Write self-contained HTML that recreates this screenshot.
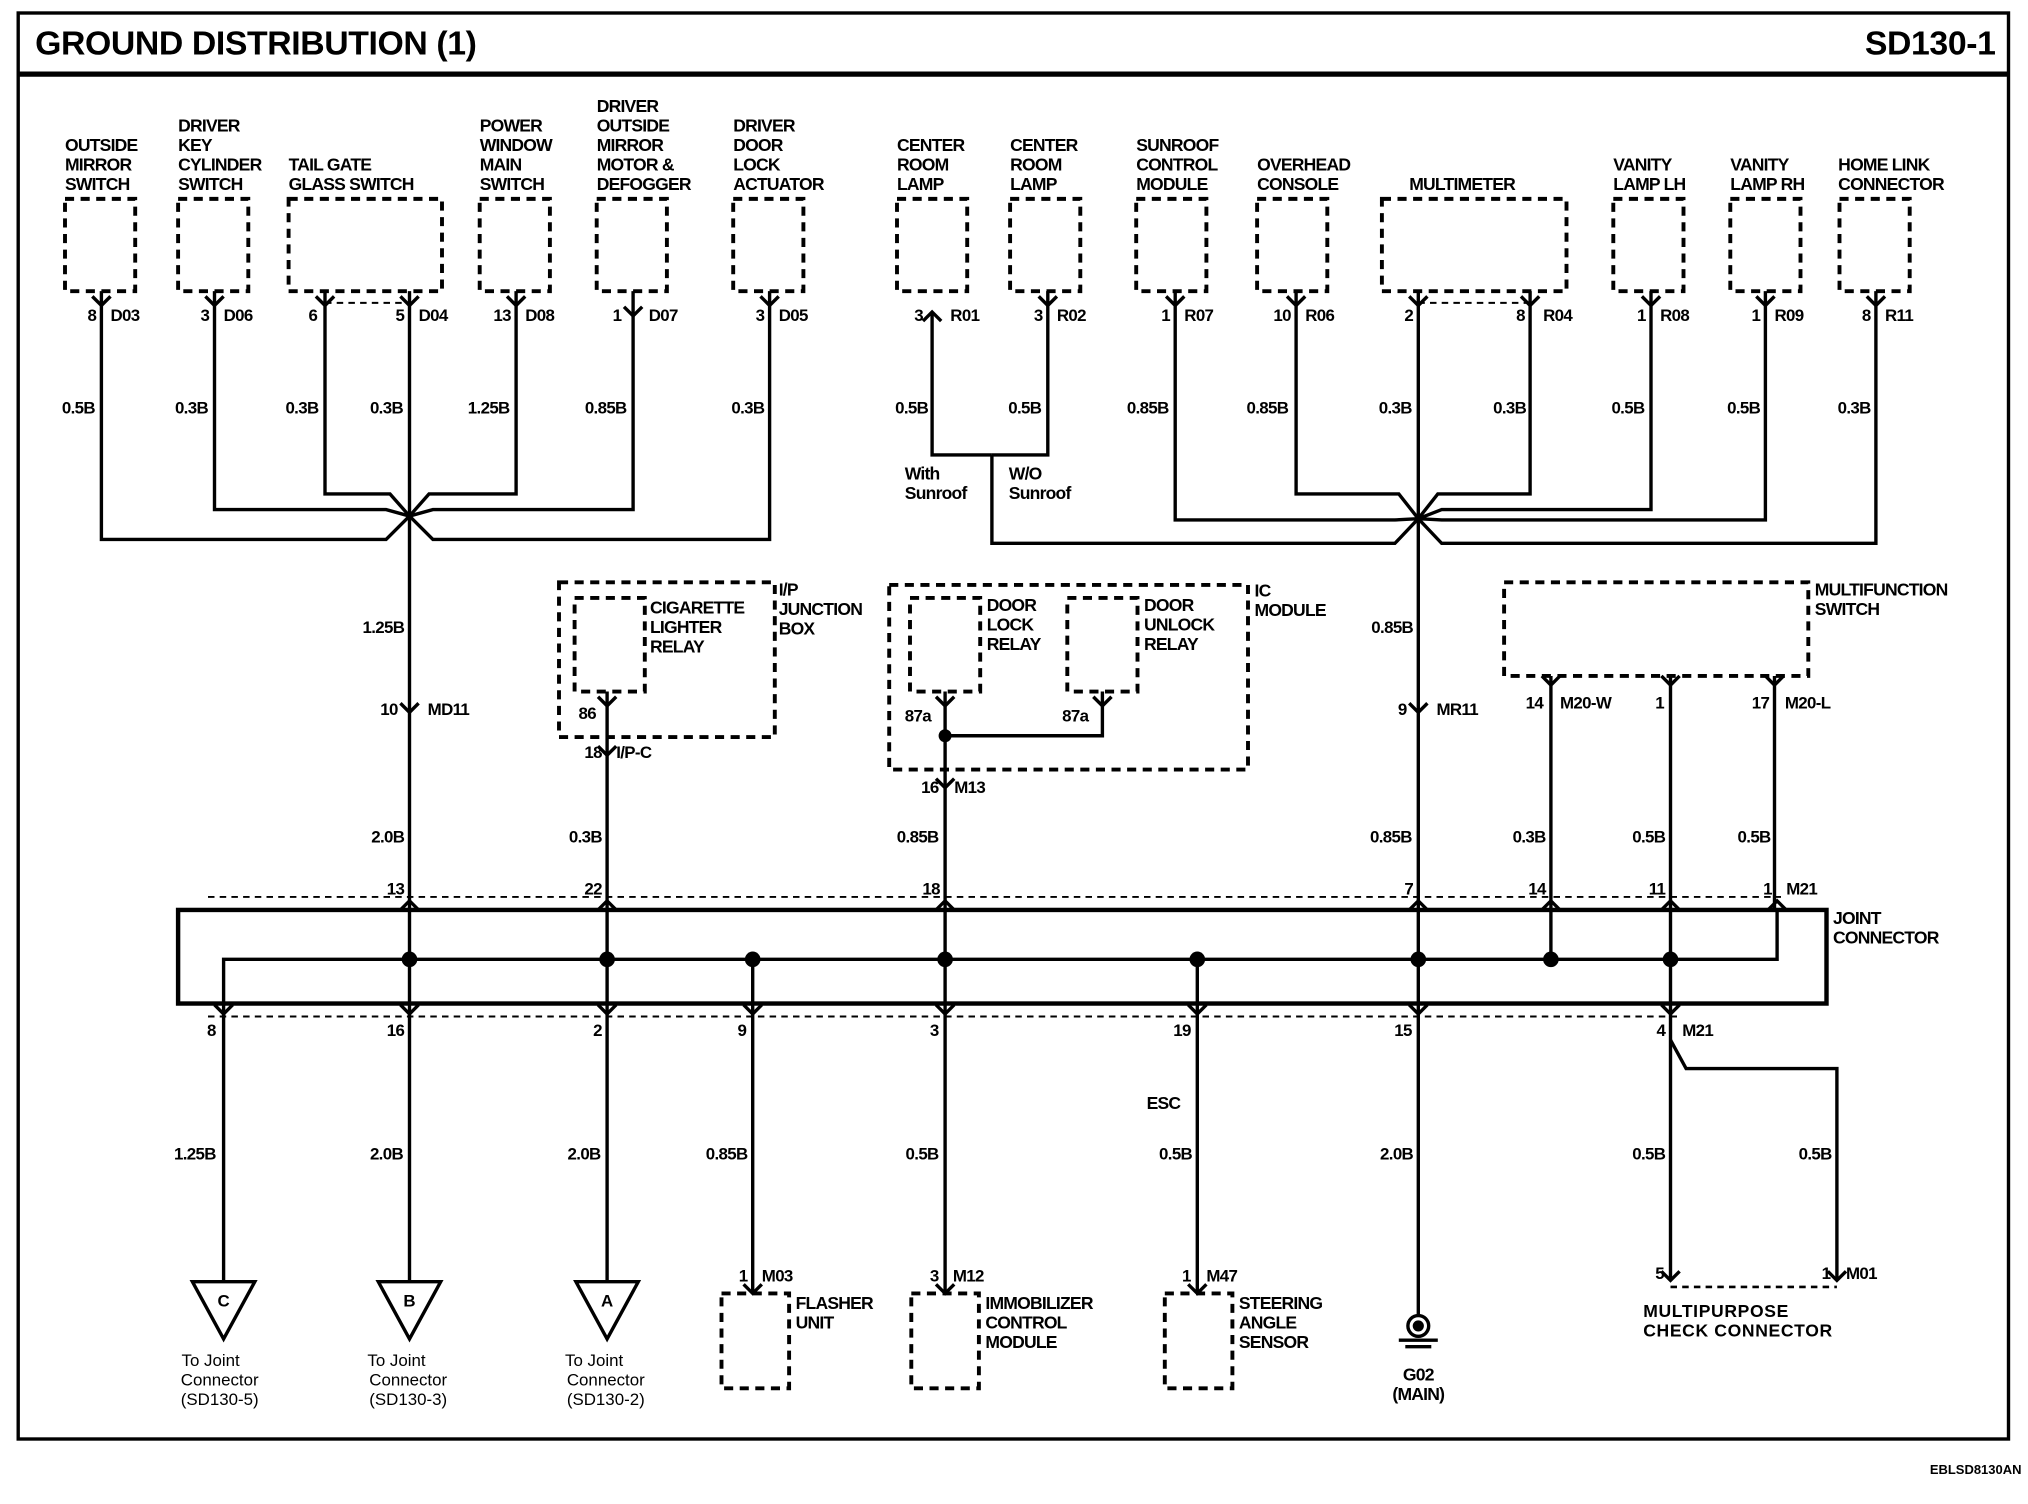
<!DOCTYPE html>
<html><head><meta charset="utf-8"><style>
html,body{margin:0;padding:0;background:#fff}
svg{display:block}
text{font-family:"Liberation Sans",sans-serif;font-weight:bold;fill:#000}
.l{font-size:13.5px;letter-spacing:-0.6px}
.w{font-size:13px;letter-spacing:-0.5px}
.p{font-size:13px;letter-spacing:-0.5px}
.d{fill:none;stroke:#000;stroke-width:3;stroke-dasharray:7 5}
.s{fill:none;stroke:#000;stroke-width:2.6}
.t{fill:none;stroke:#000;stroke-width:3.4}
.dl{fill:none;stroke:#000;stroke-width:1.5;stroke-dasharray:5 4}
</style></head><body>
<svg width="2028" height="1504" viewBox="0 0 1560 1157" preserveAspectRatio="none" xmlns="http://www.w3.org/2000/svg">
<rect x="0" y="0" width="1560" height="1157" fill="#fff"/>
<rect x="14" y="10" width="1531" height="1097" class="s"/>
<line x1="14" y1="57" x2="1545" y2="57" stroke="#000" stroke-width="4"/>
<text x="27" y="42" style="font-size:26px;letter-spacing:-0.3px">GROUND DISTRIBUTION (1)</text>
<text x="1535" y="42" text-anchor="end" style="font-size:26px;letter-spacing:-0.3px">SD130-1</text>
<text x="1555" y="1134" text-anchor="end" style="font-size:10px">EBLSD8130AN</text>

<g class="l">
<text x="50" y="116">OUTSIDE</text><text x="50" y="131">MIRROR</text><text x="50" y="146">SWITCH</text>
<text x="137" y="101">DRIVER</text><text x="137" y="116">KEY</text><text x="137" y="131">CYLINDER</text><text x="137" y="146">SWITCH</text>
<text x="222" y="131">TAIL GATE</text><text x="222" y="146">GLASS SWITCH</text>
<text x="369" y="101">POWER</text><text x="369" y="116">WINDOW</text><text x="369" y="131">MAIN</text><text x="369" y="146">SWITCH</text>
<text x="459" y="86">DRIVER</text><text x="459" y="101">OUTSIDE</text><text x="459" y="116">MIRROR</text><text x="459" y="131">MOTOR &amp;</text><text x="459" y="146">DEFOGGER</text>
<text x="564" y="101">DRIVER</text><text x="564" y="116">DOOR</text><text x="564" y="131">LOCK</text><text x="564" y="146">ACTUATOR</text>
<text x="690" y="116">CENTER</text><text x="690" y="131">ROOM</text><text x="690" y="146">LAMP</text>
<text x="777" y="116">CENTER</text><text x="777" y="131">ROOM</text><text x="777" y="146">LAMP</text>
<text x="874" y="116">SUNROOF</text><text x="874" y="131">CONTROL</text><text x="874" y="146">MODULE</text>
<text x="967" y="131">OVERHEAD</text><text x="967" y="146">CONSOLE</text>
<text x="1084" y="146">MULTIMETER</text>
<text x="1241" y="131">VANITY</text><text x="1241" y="146">LAMP LH</text>
<text x="1331" y="131">VANITY</text><text x="1331" y="146">LAMP RH</text>
<text x="1414" y="131">HOME LINK</text><text x="1414" y="146">CONNECTOR</text>
</g>
<g class="d">
<rect x="50" y="153" width="54" height="71"/>
<rect x="137" y="153" width="54" height="71"/>
<rect x="222" y="153" width="118" height="71"/>
<rect x="369" y="153" width="54" height="71"/>
<rect x="459" y="153" width="54" height="71"/>
<rect x="564" y="153" width="54" height="71"/>
<rect x="690" y="153" width="54" height="71"/>
<rect x="777" y="153" width="54" height="71"/>
<rect x="874" y="153" width="54" height="71"/>
<rect x="967" y="153" width="54" height="71"/>
<rect x="1063" y="153" width="142" height="71"/>
<rect x="1241" y="153" width="54" height="71"/>
<rect x="1331" y="153" width="54" height="71"/>
<rect x="1415" y="153" width="54" height="71"/>
<rect x="430" y="448" width="166" height="119"/>
<rect x="442" y="460" width="54" height="72"/>
<rect x="684" y="450" width="276" height="142"/>
<rect x="700" y="460" width="54" height="72"/>
<rect x="821" y="460" width="54" height="72"/>
<rect x="1157" y="448" width="234" height="72"/>
<rect x="555" y="995" width="52" height="73"/>
<rect x="701" y="995" width="52" height="73"/>
<rect x="896" y="995" width="52" height="73"/>
</g>
<g class="dl">
<line x1="250" y1="233" x2="315" y2="233"/>
<line x1="1091" y1="233" x2="1177" y2="233"/>
<line x1="160" y1="690" x2="1370" y2="690"/>
<line x1="160" y1="782" x2="1290" y2="782"/>
<line x1="1285" y1="990" x2="1413" y2="990" stroke-width="2"/>
</g>

<g class="s">
<polyline points="78,224 78,415 297,415 315,397"/>
<polyline points="165,224 165,392 297,392 315,397"/>
<polyline points="250,224 250,380 300,380 315,397"/>
<polyline points="397,224 397,380 330,380 315,397"/>
<polyline points="487,224 487,392 333,392 315,397"/>
<polyline points="592,224 592,415 333,415 315,397"/>
<line x1="315" y1="224" x2="315" y2="700"/>
<polyline points="717,240 717,350 763,350"/>
<polyline points="806,224 806,350 763,350"/>
<polyline points="763,350 763,418 1073,418 1091,399"/>
<polyline points="904,224 904,400 1073,400 1091,399"/>
<polyline points="997,224 997,380 1076,380 1091,399"/>
<polyline points="1177,224 1177,380 1106,380 1091,399"/>
<polyline points="1270,224 1270,392 1109,392 1091,399"/>
<polyline points="1358,224 1358,400 1109,400 1091,399"/>
<polyline points="1443,224 1443,418 1109,418 1091,399"/>
<line x1="1091" y1="224" x2="1091" y2="700"/>
<line x1="467" y1="532" x2="467" y2="700"/>
<polyline points="727,532 727,700"/>
<polyline points="727,566 848,566 848,532"/>
<line x1="1193" y1="520" x2="1193" y2="700"/>
<line x1="1285" y1="520" x2="1285" y2="700"/>
<line x1="1365" y1="520" x2="1365" y2="700"/>
<polyline points="172,772 172,738 1367,738 1367,700"/>
<line x1="315" y1="700" x2="315" y2="985"/>
<line x1="467" y1="700" x2="467" y2="985"/>
<line x1="727" y1="700" x2="727" y2="995"/>
<line x1="1091" y1="700" x2="1091" y2="1012"/>
<line x1="1193" y1="700" x2="1193" y2="738"/>
<line x1="1285" y1="700" x2="1285" y2="985"/>
<line x1="172" y1="772" x2="172" y2="985"/>
<line x1="579" y1="738" x2="579" y2="995"/>
<line x1="921" y1="738" x2="921" y2="995"/>
<polyline points="1285,800 1297,822 1413,822 1413,985"/>
</g>
<rect x="137" y="700" width="1268" height="72" class="t"/>
<g fill="#000">
<circle cx="315" cy="738" r="6"/><circle cx="467" cy="738" r="6"/><circle cx="579" cy="738" r="6"/>
<circle cx="727" cy="738" r="6"/><circle cx="921" cy="738" r="6"/><circle cx="1091" cy="738" r="6"/>
<circle cx="1193" cy="738" r="6"/><circle cx="1285" cy="738" r="6"/><circle cx="727" cy="566" r="5"/>
</g>
<g class="s" stroke-width="2.2">
<path d="M71 228l7 7l7-7M158 228l7 7l7-7M243 228l7 7l7-7M308 228l7 7l7-7M390 228l7 7l7-7M480 236l7 7l7-7M585 228l7 7l7-7"/>
<path d="M710 247l7-7l7 7M799 228l7 7l7-7M897 228l7 7l7-7M990 228l7 7l7-7M1084 228l7 7l7-7M1170 228l7 7l7-7M1263 228l7 7l7-7M1351 228l7 7l7-7M1436 228l7 7l7-7"/>
<path d="M308 541l7 7l7-7M1084 541l7 7l7-7M460 536l7 7l7-7M460 574l7 7l7-7M720 536l7 7l7-7M720 599l7 7l7-7M841 536l7 7l7-7M1186 520l7 7l7-7M1278 520l7 7l7-7M1358 520l7 7l7-7"/>
<path d="M308 700l7-7l7 7M460 700l7-7l7 7M720 700l7-7l7 7M1084 700l7-7l7 7M1186 700l7-7l7 7M1278 700l7-7l7 7M1360 700l7-7l7 7"/>
<path d="M165 773l7 7l7-7M308 773l7 7l7-7M460 773l7 7l7-7M572 773l7 7l7-7M720 773l7 7l7-7M914 773l7 7l7-7M1084 773l7 7l7-7M1278 773l7 7l7-7"/>
<path d="M1278 978l7 7l7-7M1406 978l7 7l7-7M572 988l7 7l7-7M720 988l7 7l7-7M914 988l7 7l7-7"/>
</g>
<g class="p">
<text x="74" y="247" text-anchor="end">8</text><text x="85" y="247">D03</text>
<text x="161" y="247" text-anchor="end">3</text><text x="172" y="247">D06</text>
<text x="244" y="247" text-anchor="end">6</text>
<text x="311" y="247" text-anchor="end">5</text><text x="322" y="247">D04</text>
<text x="393" y="247" text-anchor="end">13</text><text x="404" y="247">D08</text>
<text x="478" y="247" text-anchor="end">1</text><text x="499" y="247">D07</text>
<text x="588" y="247" text-anchor="end">3</text><text x="599" y="247">D05</text>
<text x="710" y="247" text-anchor="end">3</text><text x="731" y="247">R01</text>
<text x="802" y="247" text-anchor="end">3</text><text x="813" y="247">R02</text>
<text x="900" y="247" text-anchor="end">1</text><text x="911" y="247">R07</text>
<text x="993" y="247" text-anchor="end">10</text><text x="1004" y="247">R06</text>
<text x="1087" y="247" text-anchor="end">2</text>
<text x="1173" y="247" text-anchor="end">8</text><text x="1187" y="247">R04</text>
<text x="1266" y="247" text-anchor="end">1</text><text x="1277" y="247">R08</text>
<text x="1354" y="247" text-anchor="end">1</text><text x="1365" y="247">R09</text>
<text x="1439" y="247" text-anchor="end">8</text><text x="1450" y="247">R11</text>
<text x="306" y="550" text-anchor="end">10</text><text x="329" y="550">MD11</text>
<text x="1082" y="550" text-anchor="end">9</text><text x="1105" y="550">MR11</text>
<text x="463" y="583" text-anchor="end">18</text><text x="474" y="583">I/P-C</text>
<text x="445" y="553">86</text>
<text x="696" y="555">87a</text><text x="817" y="555">87a</text>
<text x="722" y="610" text-anchor="end">16</text><text x="734" y="610">M13</text>
<text x="1187" y="545" text-anchor="end">14</text><text x="1200" y="545">M20-W</text>
<text x="1280" y="545" text-anchor="end">1</text>
<text x="1361" y="545" text-anchor="end">17</text><text x="1373" y="545">M20-L</text>
<text x="311" y="688" text-anchor="end">13</text><text x="463" y="688" text-anchor="end">22</text>
<text x="723" y="688" text-anchor="end">18</text><text x="1087" y="688" text-anchor="end">7</text>
<text x="1189" y="688" text-anchor="end">14</text><text x="1281" y="688" text-anchor="end">11</text>
<text x="1363" y="688" text-anchor="end">1</text><text x="1374" y="688">M21</text>
<text x="166" y="797" text-anchor="end">8</text><text x="311" y="797" text-anchor="end">16</text>
<text x="463" y="797" text-anchor="end">2</text><text x="574" y="797" text-anchor="end">9</text>
<text x="722" y="797" text-anchor="end">3</text><text x="916" y="797" text-anchor="end">19</text>
<text x="1086" y="797" text-anchor="end">15</text><text x="1281" y="797" text-anchor="end">4</text><text x="1294" y="797">M21</text>
<text x="575" y="986" text-anchor="end">1</text><text x="586" y="986">M03</text>
<text x="722" y="986" text-anchor="end">3</text><text x="733" y="986">M12</text>
<text x="916" y="986" text-anchor="end">1</text><text x="928" y="986">M47</text>
<text x="1280" y="984" text-anchor="end">5</text>
<text x="1408" y="984" text-anchor="end">1</text><text x="1420" y="984">M01</text>
</g>
<g class="w" text-anchor="end">
<text x="73" y="318">0.5B</text><text x="160" y="318">0.3B</text><text x="245" y="318">0.3B</text>
<text x="310" y="318">0.3B</text><text x="392" y="318">1.25B</text><text x="482" y="318">0.85B</text>
<text x="588" y="318">0.3B</text><text x="714" y="318">0.5B</text><text x="801" y="318">0.5B</text>
<text x="899" y="318">0.85B</text><text x="991" y="318">0.85B</text><text x="1086" y="318">0.3B</text>
<text x="1174" y="318">0.3B</text><text x="1265" y="318">0.5B</text><text x="1354" y="318">0.5B</text>
<text x="1439" y="318">0.3B</text>
<text x="311" y="487">1.25B</text><text x="1087" y="487">0.85B</text>
<text x="311" y="648">2.0B</text><text x="463" y="648">0.3B</text><text x="722" y="648">0.85B</text>
<text x="1086" y="648">0.85B</text><text x="1189" y="648">0.3B</text><text x="1281" y="648">0.5B</text><text x="1362" y="648">0.5B</text>
<text x="166" y="892">1.25B</text><text x="310" y="892">2.0B</text><text x="462" y="892">2.0B</text>
<text x="575" y="892">0.85B</text><text x="722" y="892">0.5B</text><text x="917" y="892">0.5B</text>
<text x="1087" y="892">2.0B</text><text x="1281" y="892">0.5B</text><text x="1409" y="892">0.5B</text>
</g>
<g class="l">
<text x="696" y="369">With</text><text x="696" y="384">Sunroof</text>
<text x="776" y="369">W/O</text><text x="776" y="384">Sunroof</text>
<text x="500" y="472">CIGARETTE</text><text x="500" y="487">LIGHTER</text><text x="500" y="502">RELAY</text>
<text x="599" y="458">I/P</text><text x="599" y="473">JUNCTION</text><text x="599" y="488">BOX</text>
<text x="759" y="470">DOOR</text><text x="759" y="485">LOCK</text><text x="759" y="500">RELAY</text>
<text x="880" y="470">DOOR</text><text x="880" y="485">UNLOCK</text><text x="880" y="500">RELAY</text>
<text x="965" y="459">IC</text><text x="965" y="474">MODULE</text>
<text x="1396" y="458">MULTIFUNCTION</text><text x="1396" y="473">SWITCH</text>
<text x="1410" y="711">JOINT</text><text x="1410" y="726">CONNECTOR</text>
<text x="882" y="853">ESC</text>
<text x="612" y="1007">FLASHER</text><text x="612" y="1022">UNIT</text>
<text x="758" y="1007">IMMOBILIZER</text><text x="758" y="1022">CONTROL</text><text x="758" y="1037">MODULE</text>
<text x="953" y="1007">STEERING</text><text x="953" y="1022">ANGLE</text><text x="953" y="1037">SENSOR</text>
<text x="1264" y="1013" style="letter-spacing:0.5px">MULTIPURPOSE</text><text x="1264" y="1028" style="letter-spacing:0.5px">CHECK CONNECTOR</text>
<text x="1091" y="1062" text-anchor="middle">G02</text><text x="1091" y="1077" text-anchor="middle">(MAIN)</text>
</g>
<g class="s">
<path d="M148 986 L196 986 L172 1030 Z"/><path d="M291 986 L339 986 L315 1030 Z"/><path d="M443 986 L491 986 L467 1030 Z"/>
<circle cx="1091" cy="1020" r="8"/><circle cx="1091" cy="1020" r="3" fill="#000"/>
<line x1="1076" y1="1031" x2="1106" y2="1031"/><line x1="1081" y1="1036" x2="1101" y2="1036"/>
</g>
<g style="font-size:13px" text-anchor="middle">
<text x="172" y="1005">C</text><text x="315" y="1005">B</text><text x="467" y="1005">A</text>
</g>
<g text-anchor="middle">
<text x="162" y="1051" style="font-size:13px;font-weight:normal">To Joint</text><text x="169" y="1066" style="font-size:13px;font-weight:normal">Connector</text><text x="169" y="1081" style="font-size:13px;font-weight:normal">(SD130-5)</text>
<text x="305" y="1051" style="font-size:13px;font-weight:normal">To Joint</text><text x="314" y="1066" style="font-size:13px;font-weight:normal">Connector</text><text x="314" y="1081" style="font-size:13px;font-weight:normal">(SD130-3)</text>
<text x="457" y="1051" style="font-size:13px;font-weight:normal">To Joint</text><text x="466" y="1066" style="font-size:13px;font-weight:normal">Connector</text><text x="466" y="1081" style="font-size:13px;font-weight:normal">(SD130-2)</text>
</g>
</svg>
</body></html>
